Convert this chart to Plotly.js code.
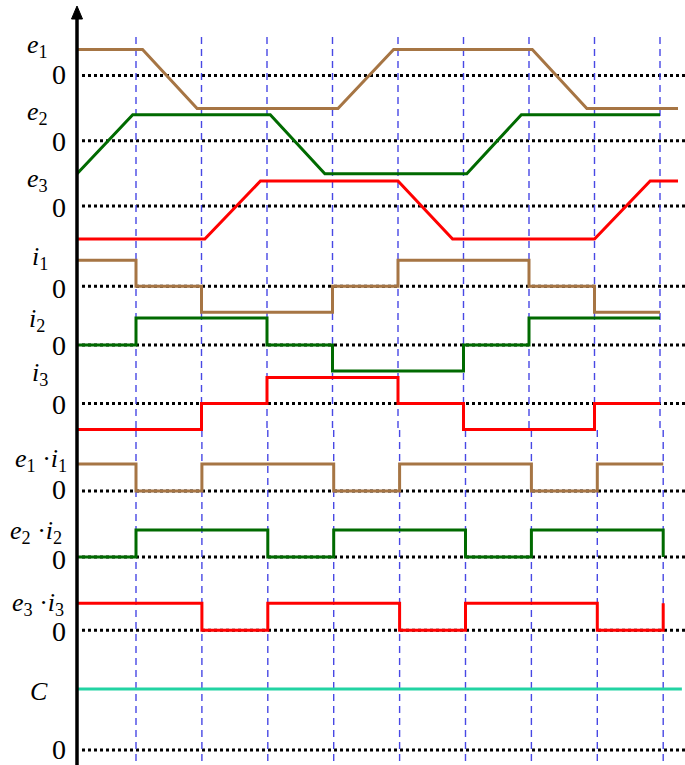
<!DOCTYPE html>
<html><head><meta charset="utf-8">
<script src="https://cdn.plot.ly/plotly-3.0.1.min.js"></script>
<style>html,body{margin:0;padding:0;background:#fff}</style>
</head><body><div id="chart" style="width:685px;height:765px"></div>
<script>
// electrical angle (deg); commutation instants (blue dashed lines)
const commutation = [30, 90, 150, 210, 270, 330, 390, 450, 510];

// back-EMF (trapezoidal) breakpoints
const e1Angle = [-24, 36, 86, 215, 266, 393, 443, 526.5];
const e1Value = [26, 26, -33, -33, 26, 26, -33, -33];
const e2Angle = [-24, 27, 153, 203, 333, 383, 510];
const e2Value = [-33, 26, 26, -33, -33, 26, 26];
const e3Angle = [-24, 93, 144, 270, 320, 450, 501, 526.5];
const e3Value = [-33, -33, 25, 25, -33, -33, 25, 25];

// phase currents (steps)
const i1Angle = [-24, 30, 90, 210, 270, 390, 450, 510];
const i1Value = [26, 0, -26, 0, 26, 0, -26, -26];
const i2Angle = [-24, 30, 150, 210, 330, 390, 510];
const i2Value = [0, 27, 0, -26, 0, 27, 27];
const i3Angle = [-24, 90, 150, 270, 330, 450, 510];
const i3Value = [-26, 0, 26, 0, -26, 0, 0];

// products e·i
const p1Angle = [-24, 30, 90, 210, 270, 390, 450, 510];
const p1Value = [27, 0, 27, 0, 27, 0, 27, 27];
const p2Angle = [-24, 30, 150, 210, 330, 390, 510];
const p2Value = [0, 27, 0, 27, 0, 27, 0];
const p3Angle = [-24, 90, 150, 270, 330, 450, 510];
const p3Value = [27, 0, 27, 0, 27, 0, 27];

// constant C
const cAngle = [-24, 527];
const cValue = [61, 61];

// ---------- layout / styling ----------
const W = 685, H = 765;
const rowZero = {e1: 75.5, e2: 140.7, e3: 206, i1: 286.3, i2: 345, i3: 403.5,
                 p1: 491, p2: 557, p3: 630.3, c: 750};
const BROWN = '#a67544', GREEN = '#006a00', RED = '#ff0000', TEAL = '#22d3a3';

function tr(ang, val, zero, color, shape, axis) {
  return {x: ang, y: val.map(v => zero - v), xaxis: axis, yaxis: 'y',
          mode: 'lines', hoverinfo: 'skip',
          line: {color: color, width: 3, shape: shape}};
}
const data = [
  tr(e1Angle, e1Value, rowZero.e1, BROWN, 'linear', 'x'),
  tr(e2Angle, e2Value, rowZero.e2, GREEN, 'linear', 'x'),
  tr(e3Angle, e3Value, rowZero.e3, RED, 'linear', 'x'),
  tr(i1Angle, i1Value, rowZero.i1, BROWN, 'hv', 'x'),
  tr(i2Angle, i2Value, rowZero.i2, GREEN, 'hv', 'x'),
  tr(i3Angle, i3Value, rowZero.i3, RED, 'hv', 'x'),
  tr(p1Angle, p1Value, rowZero.p1, BROWN, 'hv', 'x2'),
  tr(p2Angle, p2Value, rowZero.p2, GREEN, 'hv', 'x2'),
  tr(p3Angle, p3Value, rowZero.p3, RED, 'hv', 'x2'),
  tr(cAngle, cValue, rowZero.c, TEAL, 'linear', 'x2')
];

const px = v => v / W, py = v => 1 - v / H;
const shapes = [];
Object.keys(rowZero).forEach(k => shapes.push({
  type: 'line', layer: 'below', xref: 'paper', yref: 'y',
  x0: px(82), x1: 1, y0: rowZero[k], y1: rowZero[k],
  line: {color: '#000', width: 3, dash: '3px,3px'}
}));
commutation.forEach(c => {
  shapes.push({type: 'line', layer: 'below', xref: 'x', yref: 'paper',
    x0: c, x1: c, y0: py(37), y1: py(430),
    line: {color: '#4848e4', width: 1.4, dash: '7px,5px'}});
  shapes.push({type: 'line', layer: 'below', xref: 'x2', yref: 'paper',
    x0: c, x1: c, y0: py(430), y1: 0,
    line: {color: '#4848e4', width: 1.4, dash: '7px,5px'}});
});
shapes.push({type: 'line', xref: 'paper', yref: 'paper', x0: px(77), x1: px(77),
  y0: py(14), y1: 0, line: {color: '#000', width: 3.5}});
shapes.push({type: 'path', xref: 'paper', yref: 'paper',
  path: `M ${px(77)},${py(6)} L ${px(71.5)},${py(19)} L ${px(82.5)},${py(19)} Z`,
  fillcolor: '#000', line: {color: '#000', width: 1}});

const FONT = {family: 'Liberation Serif, Times New Roman, serif', size: 26, color: '#000'};
function lab(text, xl, yc) {
  return {text: text, xref: 'paper', yref: 'paper', x: px(xl), y: py(yc),
          xanchor: 'left', yanchor: 'middle', showarrow: false, borderpad: 0, font: FONT};
}
function zero(yc) {
  return {text: '0', xref: 'paper', yref: 'paper', x: px(66.5), y: py(yc),
          xanchor: 'right', yanchor: 'middle', showarrow: false, borderpad: 0,
          font: {family: FONT.family, size: 28, color: '#000'}};
}
const annotations = [
  lab('<i>e</i><sub>1</sub>', 26, 46),
  lab('<i>e</i><sub>2</sub>', 26, 113),
  lab('<i>e</i><sub>3</sub>', 26, 180),
  lab('<i>i</i><sub>1</sub>', 31, 258),
  lab('<i>i</i><sub>2</sub>', 28, 320),
  lab('<i>i</i><sub>3</sub>', 31, 374),
  lab('<i>e</i><sub>1</sub> ·<i>i</i><sub>1</sub>', 14, 460),
  lab('<i>e</i><sub>2</sub> ·<i>i</i><sub>2</sub>', 9, 532),
  lab('<i>e</i><sub>3</sub> ·<i>i</i><sub>3</sub>', 11, 604),
  lab('<i>C</i>', 29, 691),
  zero(75), zero(141), zero(207.5), zero(288), zero(346), zero(404),
  zero(490), zero(559), zero(631.5), zero(749.5)
];

// upper rows scale: 65.5 px per 60 deg; lower rows: 65.9 px per 60 deg (136 px <-> 30 deg)
const s1 = 65.5 / 60, s2 = 65.9 / 60;
const layout = {
  width: W, height: H, margin: {l: 0, r: 0, t: 0, b: 0},
  paper_bgcolor: '#fff', plot_bgcolor: '#fff', showlegend: false,
  xaxis: {range: [30 - 136 / s1, 30 + (W - 136) / s1], visible: false, fixedrange: true},
  xaxis2: {range: [30 - 136 / s2, 30 + (W - 136) / s2], overlaying: 'x', visible: false, fixedrange: true},
  yaxis: {range: [H, 0], visible: false, fixedrange: true},
  shapes: shapes, annotations: annotations
};
Plotly.newPlot('chart', data, layout, {staticPlot: true, displayModeBar: false});
</script></body></html>
